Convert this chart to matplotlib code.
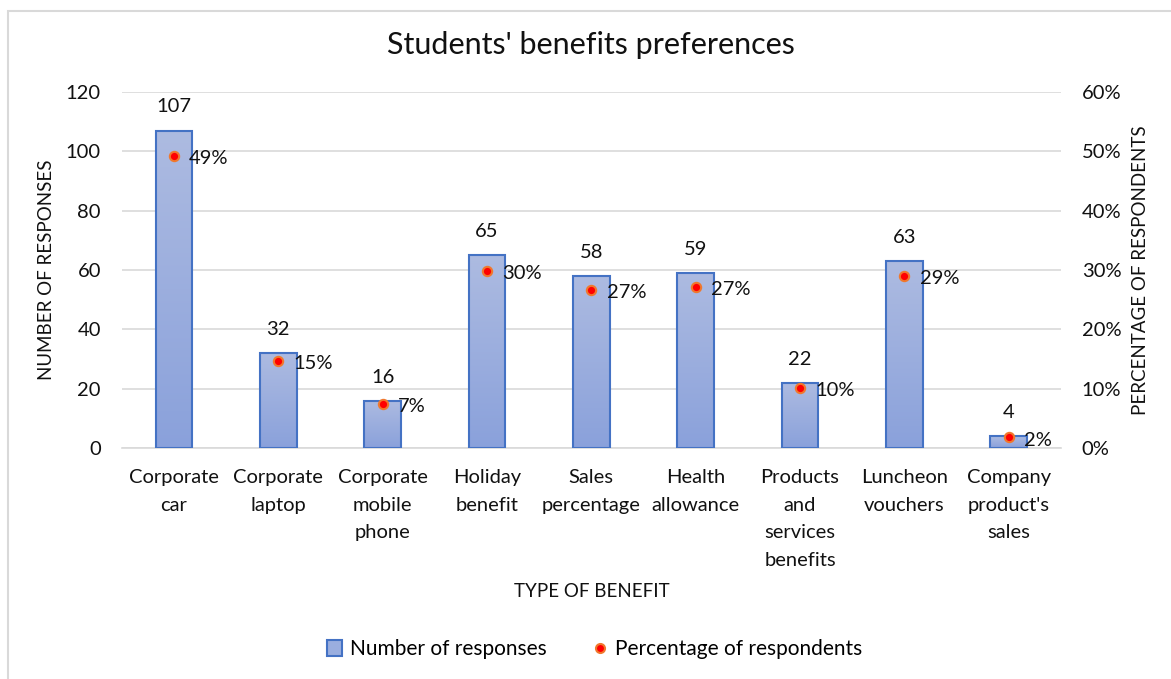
import numpy as np
import matplotlib
matplotlib.use("Agg")
import matplotlib.pyplot as plt
from matplotlib.patches import Rectangle, Patch
from matplotlib.lines import Line2D
from matplotlib.colors import LinearSegmentedColormap
from matplotlib.ticker import PercentFormatter

plt.rcParams['font.family'] = ['Lato', 'DejaVu Sans']

# Survey results
benefits = ["Corporate\ncar", "Corporate\nlaptop", "Corporate\nmobile\nphone",
            "Holiday\nbenefit", "Sales\npercentage", "Health\nallowance",
            "Products\nand\nservices\nbenefits", "Luncheon\nvouchers",
            "Company\nproduct's\nsales"]
responses = [107, 32, 16, 65, 58, 59, 22, 63, 4]
pct_respondents = [49.3, 14.7, 7.4, 29.9, 26.7, 27.2, 10.1, 29.0, 1.8]

fig = plt.figure(figsize=(11.71, 6.79), dpi=100)
ax = fig.add_axes([0.104, 0.340, 0.802, 0.5245])
ax2 = ax.twinx()

x = np.arange(len(benefits))
width = 0.35
bars = ax.bar(x, responses, width=width, color="none", edgecolor="#4472c4",
              linewidth=1.5, zorder=3)

# vertical gradient fill inside each bar
grad_cmap = LinearSegmentedColormap.from_list("bar_grad", ["#8aa1db", "#adbbe1"])
grad = np.linspace(0, 1, 256).reshape(-1, 1)
for b in bars:
    x0, y0 = b.get_x(), b.get_y()
    im = ax.imshow(grad, cmap=grad_cmap, origin="lower", aspect="auto",
                   extent=[x0, x0 + b.get_width(), y0, y0 + b.get_height()],
                   zorder=2)
    im.set_clip_path(b)

for xi, v in zip(x, responses):
    ax.annotate(str(v), (xi, v), xytext=(0, 17), textcoords="offset points",
                ha="center", va="center", fontsize=14.5, color="#111111")

ax2.scatter(x, pct_respondents, s=45, color="#ff0000", edgecolor="#f0782d",
            linewidth=1.5, zorder=5)
for xi, p in zip(x, pct_respondents):
    ax2.annotate(f"{p:.0f}%", (xi, p), xytext=(11, -2), textcoords="offset points",
                 ha="left", va="center", fontsize=14.5, color="#111111")

ax.set_xlim(-0.5, len(benefits) - 0.5)
ax.set_ylim(0, 120)
ax.set_yticks(range(0, 121, 20))
ax2.set_ylim(0, 60)
ax2.set_yticks(range(0, 61, 10))
ax2.yaxis.set_major_formatter(PercentFormatter(decimals=0))

ax.set_xticks(x)
ax.set_xticklabels(benefits, linespacing=1.76)
ax.grid(axis="y", color="#d9d9d9", linewidth=1.2)
ax.set_axisbelow(True)
for a in (ax, ax2):
    for s in a.spines.values():
        s.set_visible(False)
    a.tick_params(length=0, labelsize=14.5, colors="#111111")
ax.spines["bottom"].set_visible(True)
ax.spines["bottom"].set_color("#d9d9d9")
ax.spines["bottom"].set_linewidth(1.2)
ax.tick_params(axis="x", pad=15)
ax.tick_params(axis="y", pad=15)
ax2.tick_params(axis="y", pad=15)

ax.set_ylabel("NUMBER OF RESPONSES", fontsize=13.5, labelpad=8, color="#111111")
ax2.set_ylabel("PERCENTAGE OF RESPONDENTS", fontsize=13.5, labelpad=8, color="#111111")
ax.set_xlabel("TYPE OF BENEFIT", fontsize=13.5, labelpad=10, color="#111111")

fig.text(0.505, 0.933, "Students' benefits preferences", ha="center", va="center",
         fontsize=22, color="#111111")

handles = [Patch(facecolor="#9aaedf", edgecolor="#4472c4", linewidth=1.5),
           Line2D([], [], linestyle="none", marker="o", markersize=6.5,
                  markerfacecolor="#ff0000", markeredgecolor="#f0782d",
                  markeredgewidth=1.5)]
fig.legend(handles, ["Number of responses", "Percentage of respondents"],
           loc="center", bbox_to_anchor=(0.508, 0.044), ncol=2, frameon=False,
           fontsize=15, handlelength=0.7, handleheight=0.8, handletextpad=0.4,
           columnspacing=2.2)

# chart frame
fig.add_artist(Rectangle((7.5 / 1171, -0.5), 1.2, 1 - 10.5 / 679 + 0.5,
                         transform=fig.transFigure, fill=False,
                         edgecolor="#d9d9d9", linewidth=1.5, clip_on=False))

fig.savefig("out.png", dpi=100)
